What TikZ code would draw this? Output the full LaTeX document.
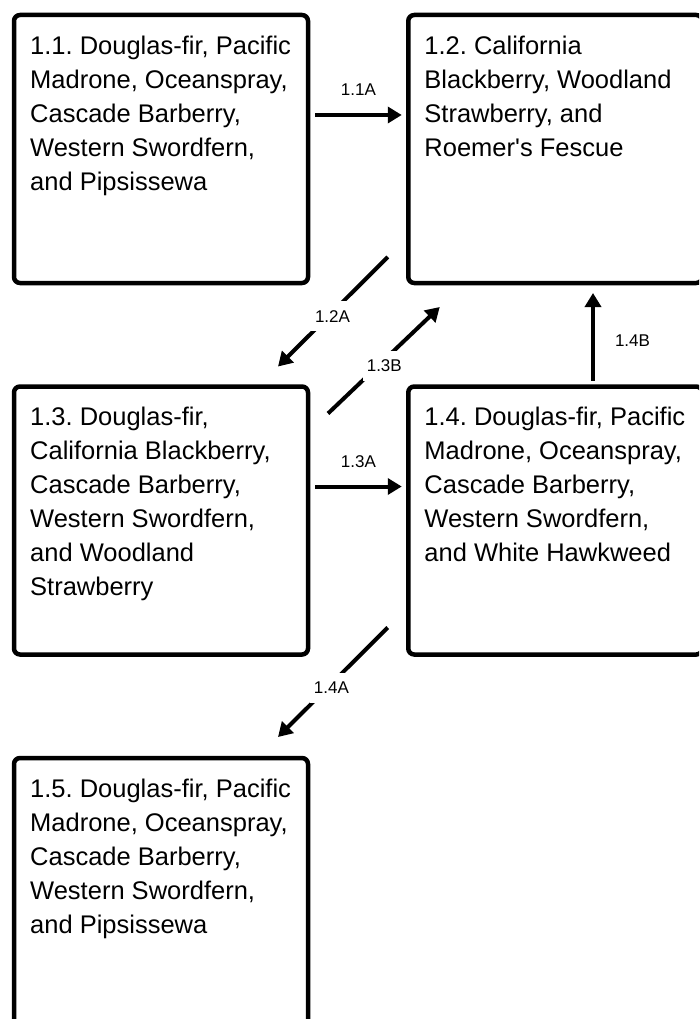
\documentclass[tikz,border=0pt]{standalone}
\usepackage{fontspec}
\setmainfont{Liberation Sans}
\usetikzlibrary{arrows.meta,calc}
\begin{document}
\frenchspacing
\begin{tikzpicture}[x=1pt,y=-1pt,
  box/.style={draw,line width=4.5pt,rounded corners=6pt,minimum width=294pt,minimum height=268pt,inner sep=0pt,outer sep=0pt},
  txt/.style={anchor=north west,align=left,inner sep=0pt,font=\fontsize{25.5}{34}\selectfont},
  conn/.style={line width=4pt,-{Triangle[length=14pt,width=16pt]}},
  lbl/.style={font=\fontsize{17}{19}\selectfont,fill=white,inner xsep=4pt,inner ysep=9pt},
  slbl/.style={font=\fontsize{17}{19}\selectfont,inner sep=0pt}]
\useasboundingbox (0,0) rectangle (699,1019);
\clip (0,0) rectangle (699,1019);
\fill[white] (0,0) rectangle (699,1019);
% boxes
\node[box] (b11) at (161,149) {};
\node[box] (b12) at (555.25,149) {};
\node[box] (b13) at (161,520.5) {};
\node[box] (b14) at (555.25,520.5) {};
\node[box] (b15) at (161,892) {};
% texts
\node[txt] (t11) at ($(b11.north west)+(16,20.5)$) {1.1. Douglas-fir, Pacific\\Madrone, Oceanspray,\\Cascade Barberry,\\Western Swordfern,\\and Pipsissewa};
\node[txt] (t12) at ($(b12.north west)+(16,20.5)$) {1.2. California\\Blackberry, Woodland\\Strawberry, and\\Roemer\textquotesingle s Fescue};
\node[txt] (t13) at ($(b13.north west)+(16,20.5)$) {1.3. Douglas-fir,\\California Blackberry,\\Cascade Barberry,\\Western Swordfern,\\and Woodland\\Strawberry};
\node[txt] (t14) at ($(b14.north west)+(16,20.5)$) {1.4. Douglas-fir, Pacific\\Madrone, Oceanspray,\\Cascade Barberry,\\Western Swordfern,\\and White Hawkweed};
\node[txt] (t15) at ($(b15.north west)+(16,20.5)$) {1.5. Douglas-fir, Pacific\\Madrone, Oceanspray,\\Cascade Barberry,\\Western Swordfern,\\and Pipsissewa};
% connectors
\draw[conn] ($(b11.east)+(7,-34)$) -- node[slbl,above=17pt]{1.1A} ($(b12.west)+(-6.5,-34)$);
\draw[conn] ($(b13.east)+(7,-34)$) -- node[slbl,above=17pt]{1.3A} ($(b14.west)+(-6.5,-34)$);
\draw[conn] ($(b12.south west)+(-20.5,-26)$) -- node[lbl,pos=0.54,xshift=4pt]{1.2A} ($(b13.north east)+(-30,-20)$);
\draw[conn] ($(b13.north east)+(20,27)$) -- node[lbl,pos=0.45,xshift=6pt]{1.3B} ($(b12.south west)+(31.5,24)$);
\draw[conn] ($(b14.south west)+(-20.5,-27)$) -- node[lbl,pos=0.55,xshift=4pt]{1.4A} ($(b15.north east)+(-30,-21)$);
\draw[conn] ($(b14.north)+(37.75,-6)$) -- node[slbl,pos=0.45,right=20pt]{1.4B} ($(b12.south)+(37.75,10)$);
\end{tikzpicture}
\end{document}
